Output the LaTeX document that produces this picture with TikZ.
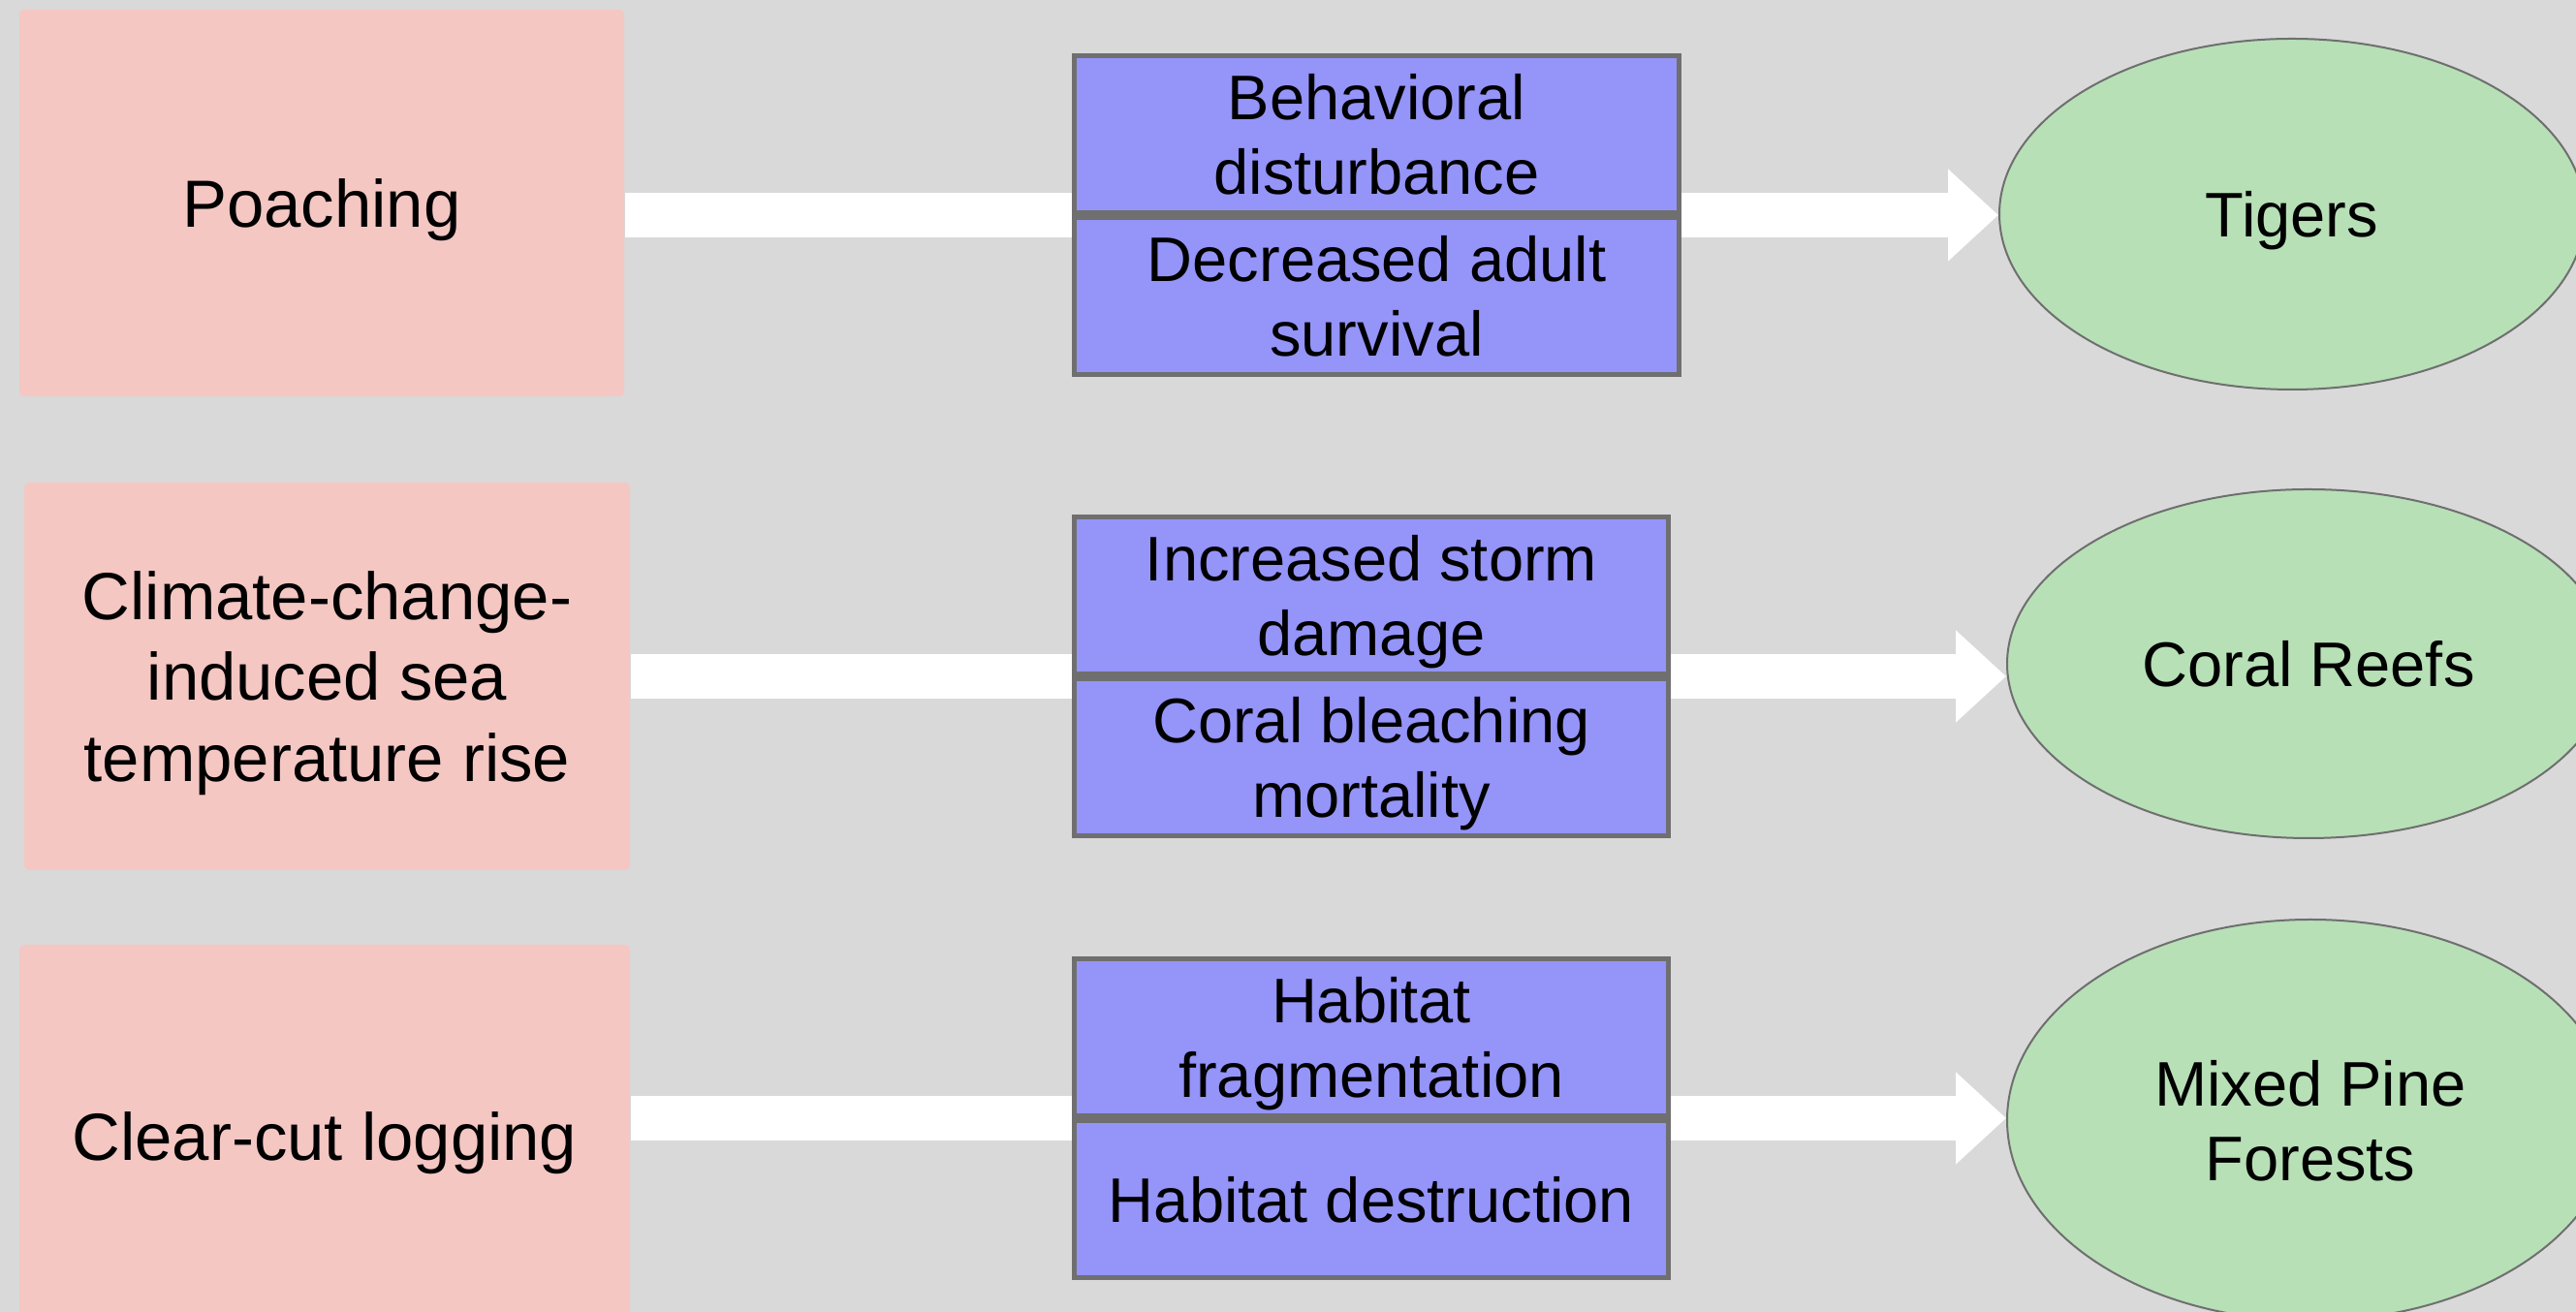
\documentclass[tikz,border=0pt]{standalone}
\usepackage{fontspec}
\setmainfont{Liberation Sans}
\usetikzlibrary{positioning,shapes.geometric,arrows.meta}
\definecolor{canvas}{HTML}{D9D9D9}
\definecolor{threatpink}{HTML}{F4C7C3}
\definecolor{impactblue}{HTML}{9494F9}
\definecolor{targetgreen}{HTML}{B7E0B7}
\definecolor{edgegray}{HTML}{6F6F6F}

\begin{document}
\begin{tikzpicture}[
    threatbox/.style={fill=threatpink, rounded corners=0.05cm, minimum width=6.25cm,
      minimum height=4cm, inner sep=0pt, align=center, text depth=-0.05cm,
      font=\fontsize{19.6}{23.8}\selectfont},
    impactbox/.style={draw=edgegray, line width=0.05cm, fill=impactblue,
      minimum width=6.13cm, minimum height=1.62cm, inner sep=0pt, align=center,
      text depth=-0.05cm, font=\fontsize{18.5}{21.9}\selectfont},
    targetnode/.style={ellipse, draw=edgegray, line width=0.02cm, fill=targetgreen,
      inner sep=0pt, align=center, text depth=0pt, font=\fontsize{18.5}{21.9}\selectfont},
    flowarrow/.style={white, line width=0.46cm, -{Triangle[length=0.52cm, width=0.92cm]}}
  ]
    \useasboundingbox (0,0) rectangle (26.58,13.54);
    \clip (0,0) rectangle (26.58,13.54);
    \fill[canvas] (0,0) rectangle (26.58,13.54);

    % threats
    \node[threatbox, minimum width=6.24cm, minimum height=3.99cm] (poaching) at (3.32,11.445) {Poaching};
    \node[threatbox] (climate) at (3.375,6.56) {Climate-change-\\induced sea\\temperature rise};
    \node[threatbox, minimum width=6.3cm, minimum height=3.96cm] (logging) at (3.35,1.81) {Clear-cut logging};

    % targets
    \node[targetnode, minimum width=6.04cm, minimum height=3.62cm] (tigers) at (23.65,11.33) {Tigers};
    \node[targetnode, minimum width=6.22cm, minimum height=3.6cm] (reefs) at (23.82,6.69) {Coral Reefs};
    \node[targetnode, minimum width=6.26cm, minimum height=4.14cm] (pines) at (23.84,1.98) {Mixed Pine\\Forests};

    % one row per threat, the stresses sit on the arrow
    \coordinate (row1) at (14.205,11.32);
    \coordinate (row2) at (14.15,6.56);
    \coordinate (row3) at (14.15,2.0);

    \draw[flowarrow] (poaching.east |- row1) -- (tigers.west |- row1);
    \draw[flowarrow] (climate.east |- row2) -- (reefs.west |- row2);
    \draw[flowarrow] (logging.east |- row3) -- (pines.west |- row3);

    \node[impactbox, minimum width=6.24cm, above=0pt of row1] (behav) {Behavioral\\disturbance};
    \node[impactbox, minimum width=6.24cm, below=0pt of behav] (survival) {Decreased adult\\survival};

    \node[impactbox, above=0pt of row2] (storm) {Increased storm\\damage};
    \node[impactbox, below=0pt of storm] (bleach) {Coral bleaching\\mortality};

    \node[impactbox, above=0pt of row3] (frag) {Habitat\\fragmentation};
    \node[impactbox, below=0pt of frag] (destr) {Habitat destruction};
\end{tikzpicture}
\end{document}
